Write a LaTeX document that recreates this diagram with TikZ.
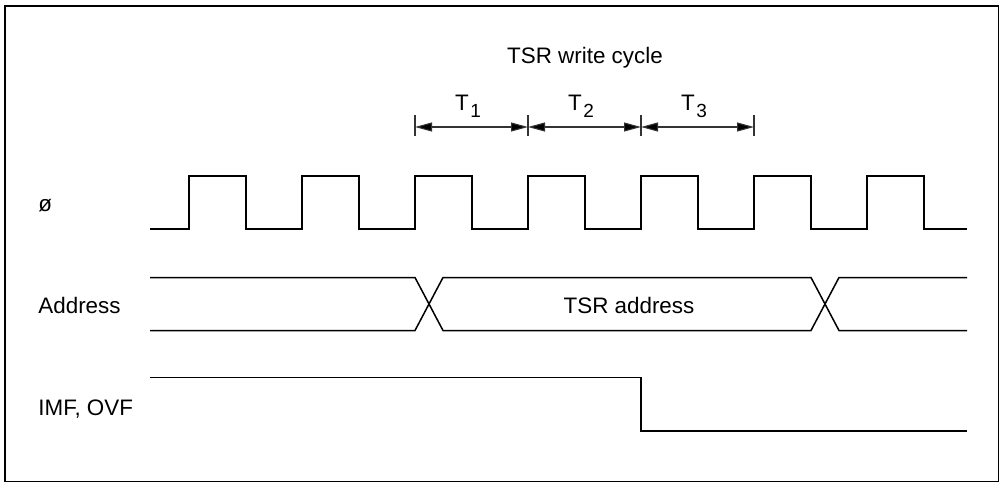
\documentclass[tikz,border=0pt]{standalone}
\usepackage{fontspec}
\setmainfont{Liberation Sans}
\usetikzlibrary{arrows.meta, positioning}
\tikzset{every node/.style={font=\fontsize{11.2}{13}\selectfont}}
\newcommand{\statelbl}[1]{T\kern0.8pt\raisebox{-0.6ex}{\fontsize{9.5}{10}\selectfont #1}}

\begin{document}
\begin{tikzpicture}[
  x=0.5pt, y=-0.5pt,
  wave/.style={line width=0.75pt, line join=miter},
  dimline/.style={line width=0.55pt, draw=black!80,
    {Triangle[length=8.5pt,width=4.5pt,fill=black]}-{Triangle[length=8.5pt,width=4.5pt,fill=black]}},
  tickmark/.style={line width=0.55pt, draw=black!80},
  sigtext/.style={anchor=base west, inner sep=0pt},
  midtext/.style={anchor=base, inner sep=0pt}
]
  \useasboundingbox (0,0) rectangle (1003,483);
  \draw[line width=0.75pt] (5,6) rectangle (998.5,481.5);

  % signal names
  \node[sigtext] (phi) at (38,211.5) {ø};
  \node[sigtext] (addr) at (38,313.5) {Address};
  \node[sigtext] (imf) at (38,415) {IMF, OVF};

  % clock
  \draw[wave] (150,229) \foreach \r in {189,302,...,867} {
    -- (\r,229) -- (\r,176) -- ({\r+57},176) -- ({\r+57},229) } -- (967,229);

  % address bus
  \draw[wave] (150,277.5) -- (415,277.5) -- (443,330.5) -- (811,330.5) -- (839,277.5) -- (967,277.5);
  \draw[wave] (150,330.5) -- (415,330.5) -- (443,277.5) -- (811,277.5) -- (839,330.5) -- (967,330.5);
  \node[midtext] (tsraddr) at (629,313.5) {TSR address};

  % flags
  \draw[wave] (150,377.5) -- (641,377.5) -- (641,431) -- (967,431);

  % write cycle states
  \foreach \i/\x in {0/415,1/528,2/641,3/754} {
    \coordinate (t\i) at (\x,127);
    \draw[tickmark] (\x,115) -- (\x,136);
  }
  \draw[dimline] (t0) -- (t1);
  \draw[dimline] (t1) -- (t2);
  \draw[dimline] (t2) -- (t3);
  \node[midtext] (st1) at (468,110) {\statelbl{1}};
  \node[midtext] (st2) at (581,110) {\statelbl{2}};
  \node[midtext] (st3) at (694,110) {\statelbl{3}};
  \node[midtext] (cycle) at (585,63) {TSR write cycle};
\end{tikzpicture}
\end{document}
